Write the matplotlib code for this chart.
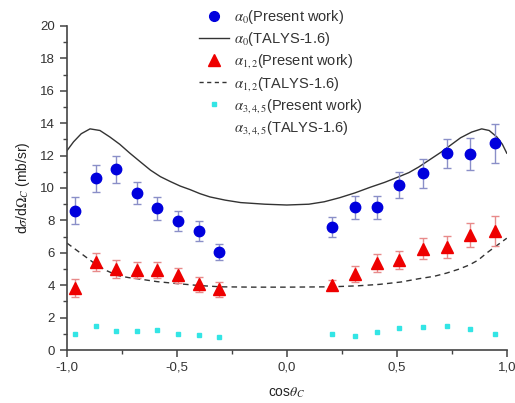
import numpy as np
import matplotlib
matplotlib.use("Agg")
import matplotlib.pyplot as plt
from matplotlib.ticker import FuncFormatter, MultipleLocator
from matplotlib.lines import Line2D

plt.rcParams['font.family'] = ['Liberation Sans', 'DejaVu Sans']
plt.rcParams['mathtext.fontset'] = 'stix'

# measured points (cos theta_C)
cos_left = [-0.964, -0.87, -0.775, -0.68, -0.59, -0.495, -0.40, -0.31]
cos_right = [0.205, 0.31, 0.41, 0.51, 0.62, 0.73, 0.835, 0.945]
cos_pts = cos_left + cos_right

a0_val = [8.6, 10.6, 11.15, 9.7, 8.75, 7.95, 7.35, 6.05,
          7.6, 8.8, 8.8, 10.2, 10.9, 12.15, 12.1, 12.75]
a0_err = [0.85, 0.85, 0.85, 0.7, 0.7, 0.6, 0.6, 0.5,
          0.6, 0.7, 0.7, 0.8, 0.9, 0.9, 1.0, 1.2]

a12_val = [3.85, 5.45, 5.0, 4.95, 4.95, 4.6, 4.05, 3.75,
           4.0, 4.7, 5.35, 5.55, 6.25, 6.35, 7.1, 7.35]
a12_err = [0.55, 0.55, 0.55, 0.5, 0.5, 0.45, 0.45, 0.45,
           0.3, 0.5, 0.55, 0.55, 0.65, 0.7, 0.75, 0.9]

a345_val = [1.0, 1.5, 1.2, 1.2, 1.25, 1.0, 0.9, 0.8,
            1.0, 0.85, 1.1, 1.35, 1.4, 1.5, 1.3, 1.0]

# TALYS-1.6 curves
talys0_x = [-1.0, -0.97, -0.935, -0.895, -0.85, -0.805, -0.76, -0.714, -0.665, -0.62,
            -0.575, -0.53, -0.485, -0.44, -0.395, -0.35, -0.28, -0.21, -0.1, 0.0,
            0.10, 0.17, 0.24, 0.31, 0.38, 0.445, 0.51, 0.555, 0.60, 0.65, 0.70,
            0.745, 0.79, 0.84, 0.886, 0.92, 0.955, 0.98, 1.0]
talys0_y = [12.3, 12.85, 13.35, 13.65, 13.55, 13.15, 12.7, 12.15, 11.6, 11.1,
            10.7, 10.4, 10.12, 9.9, 9.65, 9.45, 9.25, 9.1, 9.0, 8.95,
            9.0, 9.15, 9.4, 9.7, 10.05, 10.35, 10.7, 10.95, 11.3, 11.75, 12.2,
            12.65, 13.1, 13.45, 13.65, 13.55, 13.15, 12.7, 12.15]

talys12_x = [-1.0, -0.97, -0.94, -0.9, -0.865, -0.82, -0.77, -0.72, -0.68, -0.59,
             -0.5, -0.4, -0.3, -0.15, 0.0, 0.2, 0.32, 0.42, 0.52, 0.6, 0.67, 0.727,
             0.78, 0.83, 0.87, 0.91, 0.95, 1.0]
talys12_y = [6.6, 6.3, 6.0, 5.6, 5.25, 4.9, 4.6, 4.47, 4.4, 4.22,
             4.1, 3.98, 3.9, 3.88, 3.88, 3.9, 3.96, 4.05, 4.2, 4.4, 4.55, 4.75,
             4.98, 5.25, 5.55, 6.0, 6.4, 6.9]

fig = plt.figure(figsize=(5.15, 4.03), dpi=100)
ax = fig.add_axes([0.130, 0.1315, 0.854, 0.804])

ax.plot(talys0_x, talys0_y, color='#333333', lw=1.0)
ax.plot(talys12_x, talys12_y, color='#333333', lw=1.0, ls=(0, (4, 3)))

ax.errorbar(cos_pts, a0_val, yerr=a0_err, fmt='o', color='#0000dd', ms=7.5,
            ecolor='#8a8fc8', elinewidth=1.0, capsize=3, capthick=1.0, zorder=3)
ax.errorbar(cos_pts, a12_val, yerr=a12_err, fmt='^', color='#ee0000', ms=8.5,
            ecolor='#e88a8a', elinewidth=1.0, capsize=3, capthick=1.0, zorder=3)
ax.plot(cos_pts, a345_val, 's', color='#33e5e5', ms=3.5, zorder=3)

ax.set_xlim(-1.0, 1.0)
ax.set_ylim(0, 20)
ax.xaxis.set_major_locator(MultipleLocator(0.5))
ax.xaxis.set_minor_locator(MultipleLocator(0.25))
ax.yaxis.set_major_locator(MultipleLocator(2))
ax.yaxis.set_minor_locator(MultipleLocator(1))
ax.xaxis.set_major_formatter(FuncFormatter(lambda v, p: ('%.1f' % v).replace('.', ',')))
ax.yaxis.set_major_formatter(FuncFormatter(lambda v, p: '%d' % v))

for s in ['top', 'right']:
    ax.spines[s].set_visible(False)
for s in ['left', 'bottom']:
    ax.spines[s].set_color('#444444')
    ax.spines[s].set_linewidth(1.2)
ax.tick_params(which='major', direction='out', length=5, width=1.1, color='#444444',
               labelsize=9.5, labelcolor='#333333')
ax.tick_params(which='minor', direction='out', length=3, width=1.0, color='#444444')

ax.set_xlabel(r'cos$\theta_C$', fontsize=10, color='#222222', labelpad=8)
ax.set_ylabel(r'd$\sigma$/d$\Omega_C$ (mb/sr)', fontsize=10, color='#222222', labelpad=6)

handles = [
    Line2D([], [], ls='none', marker='o', color='#0000dd', ms=7),
    Line2D([], [], color='#333333', lw=1.0),
    Line2D([], [], ls='none', marker='^', color='#ee0000', ms=8),
    Line2D([], [], color='#333333', lw=1.0, ls=(0, (3, 2.5))),
    Line2D([], [], ls='none', marker='s', color='#33e5e5', ms=3.5),
    Line2D([], [], ls='none'),
]
labels = [r'$\alpha_0$(Present work)', r'$\alpha_0$(TALYS-1.6)',
          r'$\alpha_{1,2}$(Present work)', r'$\alpha_{1,2}$(TALYS-1.6)',
          r'$\alpha_{3,4,5}$(Present work)', r'$\alpha_{3,4,5}$(TALYS-1.6)']
leg = ax.legend(handles, labels, loc='upper left', bbox_to_anchor=(0.27, 1.097),
                frameon=False, fontsize=10.5, handlelength=2.1, handletextpad=0.3,
                labelspacing=0.3)
for t in leg.get_texts():
    t.set_color('#333333')

fig.savefig('out.png', dpi=100)
